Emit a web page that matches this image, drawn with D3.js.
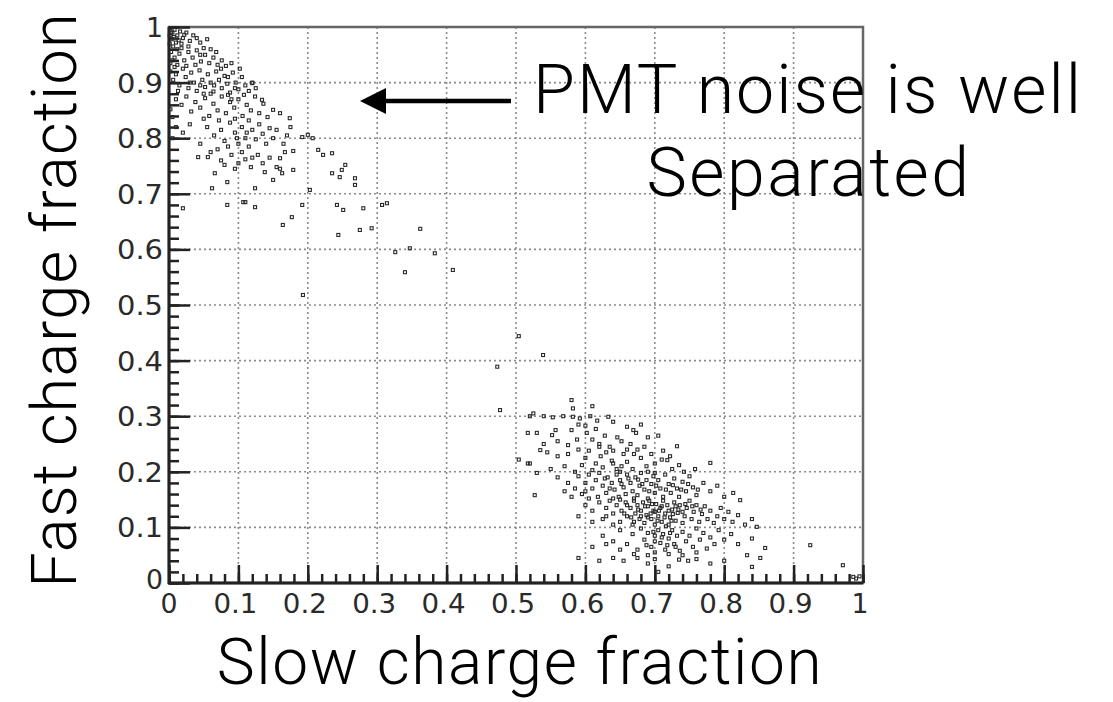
<!DOCTYPE html>
<html>
<head>
<meta charset="utf-8">
<title>Fast vs slow charge fraction</title>
<script src="https://cdn.jsdelivr.net/npm/d3@7"></script>
<style>
  body { margin: 0; background: #fff; }
  .tick-label { font-family: "DejaVu Sans", sans-serif; font-size: 27px; fill: #2a2a2a; }
  .title { font-family: Roboto, "Liberation Sans", sans-serif; font-weight: 300; fill: #000; }
</style>
</head>
<body>
<script>
// tick labels along both axes
var tickLabels = ["0", "0.1", "0.2", "0.3", "0.4", "0.5", "0.6", "0.7", "0.8", "0.9", "1"];
var tickValues = [0, 0.1, 0.2, 0.3, 0.4, 0.5, 0.6, 0.7, 0.8, 0.9, 1];

// PMT noise events (upper left)
var noiseHits = [
  [0.002,0.998],[0.005,0.99],[0.008,0.995],[0.012,0.985],[0.004,0.978],[0.01,0.972],[0.016,0.992],[0.02,0.98],
  [0.025,0.99],[0.018,0.97],[0.03,0.975],[0.035,0.985],[0.04,0.98],[0.006,0.965],[0.045,0.972],[0.055,0.978],
  [0.028,0.965],[0.012,0.96],[0.001,0.985],[0.001,0.97],[0.003,0.99],[0.007,0.982],[0.014,0.976],[0.022,0.986],
  [0.003,0.955],[0.008,0.945],[0.015,0.952],[0.022,0.94],[0.028,0.955],[0.034,0.945],[0.04,0.958],[0.046,0.938],
  [0.052,0.95],[0.058,0.935],[0.064,0.945],[0.07,0.932],[0.076,0.94],[0.082,0.93],[0.002,0.935],[0.012,0.932],
  [0.018,0.962],[0.038,0.932],[0.05,0.962],[0.06,0.96],[0.068,0.955],[0.025,0.93],[0.045,0.95],[0.09,0.935],[0.005,0.94],
  [0.002,0.92],[0.006,0.905],[0.01,0.915],[0.015,0.895],[0.02,0.925],[0.024,0.91],[0.028,0.89],[0.032,0.918],
  [0.036,0.9],[0.04,0.885],[0.044,0.922],[0.048,0.905],[0.052,0.892],[0.056,0.915],[0.06,0.9],[0.064,0.884],
  [0.068,0.92],[0.072,0.905],[0.076,0.89],[0.08,0.912],[0.084,0.898],[0.088,0.882],[0.092,0.918],[0.096,0.9],
  [0.1,0.888],[0.105,0.91],[0.11,0.895],[0.115,0.885],[0.12,0.9],[0.075,0.925],[0.05,0.88],[0.03,0.9],
  [0.085,0.91],[0.095,0.89],[0.065,0.895],[0.045,0.895],[0.013,0.885],[0.008,0.928],[0.102,0.925],[0.125,0.89],
  [0.01,0.87],[0.018,0.86],[0.025,0.875],[0.032,0.848],[0.038,0.865],[0.045,0.855],[0.052,0.872],[0.058,0.84],
  [0.064,0.862],[0.07,0.85],[0.076,0.875],[0.082,0.845],[0.088,0.865],[0.094,0.855],[0.1,0.87],[0.106,0.84],
  [0.112,0.86],[0.118,0.85],[0.124,0.875],[0.13,0.845],[0.136,0.862],[0.142,0.838],[0.05,0.835],[0.072,0.832],
  [0.095,0.835],[0.115,0.832],[0.002,0.852],[0.005,0.838],[0.085,0.878],[0.06,0.88],[0.09,0.87],[0.108,0.878],
  [0.02,0.81],[0.03,0.825],[0.045,0.79],[0.055,0.82],[0.065,0.805],[0.075,0.815],[0.08,0.795],[0.088,0.828],
  [0.095,0.81],[0.1,0.79],[0.105,0.82],[0.11,0.8],[0.115,0.785],[0.12,0.815],[0.125,0.798],[0.13,0.825],
  [0.135,0.808],[0.14,0.79],[0.145,0.818],[0.15,0.8],[0.155,0.815],[0.165,0.79],[0.17,0.805],[0.175,0.82],
  [0.085,0.785],[0.07,0.78],[0.005,0.8],[0.01,0.82],[0.098,0.8],[0.112,0.81],
  [0.06,0.775],[0.075,0.76],[0.09,0.77],[0.1,0.755],[0.105,0.775],[0.11,0.762],[0.118,0.748],[0.128,0.77],
  [0.135,0.755],[0.145,0.765],[0.155,0.748],[0.12,0.765],[0.095,0.745],[0.08,0.752]
];

// sparse events between the two populations
var bridgeHits = [
  [0.042,0.766],[0.056,0.766],[0.066,0.737],[0.084,0.721],[0.062,0.71],[0.084,0.68],[0.11,0.685],[0.124,0.676],
  [0.124,0.71],[0.138,0.739],[0.15,0.725],[0.163,0.737],[0.16,0.745],[0.179,0.743],[0.167,0.775],[0.179,0.777],
  [0.16,0.764],[0.192,0.68],[0.177,0.658],[0.164,0.644],[0.203,0.707],[0.215,0.779],[0.235,0.773],[0.222,0.77],
  [0.235,0.737],[0.249,0.743],[0.246,0.73],[0.254,0.752],[0.268,0.728],[0.268,0.716],[0.242,0.68],[0.251,0.671],
  [0.28,0.674],[0.244,0.626],[0.275,0.635],[0.292,0.638],[0.307,0.68],[0.314,0.683],[0.326,0.595],[0.347,0.602],
  [0.34,0.559],[0.362,0.637],[0.383,0.593],[0.409,0.563],[0.193,0.518],[0.504,0.444],[0.539,0.41],[0.473,0.389],
  [0.477,0.311],[0.02,0.674],[0.192,0.802],[0.2,0.806],[0.207,0.8],[0.174,0.836],[0.15,0.851],[0.16,0.845],
  [0.134,0.869],[0.12,0.899],[0.107,0.685]
];

// scintillation events (lower right)
var signalHits = [
  [0.52,0.30],[0.54,0.30],[0.553,0.298],[0.568,0.30],[0.582,0.299],[0.592,0.296],[0.607,0.30],[0.617,0.292],
  [0.633,0.299],[0.64,0.29],[0.58,0.329],[0.582,0.314],[0.525,0.305],[0.61,0.318],[0.66,0.281],[0.669,0.275],
  [0.517,0.27],[0.53,0.27],[0.552,0.266],[0.557,0.275],[0.58,0.275],[0.6,0.283],[0.602,0.27],[0.615,0.277],
  [0.61,0.258],[0.588,0.258],[0.62,0.25],[0.628,0.265],[0.646,0.262],[0.652,0.255],[0.673,0.27],[0.69,0.262],
  [0.705,0.265],[0.56,0.255],[0.54,0.25],[0.575,0.248],[0.635,0.245],[0.665,0.25],[0.685,0.245],[0.732,0.246],
  [0.59,0.285],[0.68,0.285],
  [0.504,0.222],[0.52,0.215],[0.535,0.239],[0.545,0.235],[0.56,0.228],[0.575,0.232],[0.59,0.24],[0.60,0.225],
  [0.605,0.238],[0.615,0.215],[0.622,0.228],[0.63,0.235],[0.638,0.22],[0.645,0.205],[0.655,0.232],[0.66,0.218],
  [0.668,0.205],[0.675,0.24],[0.68,0.225],[0.688,0.21],[0.695,0.232],[0.70,0.215],[0.71,0.222],[0.718,0.221],
  [0.725,0.205],[0.735,0.212],[0.55,0.205],[0.57,0.21],[0.585,0.2],[0.595,0.212],[0.61,0.203],[0.625,0.208],
  [0.64,0.238],[0.67,0.232],[0.69,0.2],[0.742,0.2],[0.758,0.205],[0.78,0.216],[0.64,0.215],[0.652,0.21],
  [0.66,0.24],[0.712,0.238],[0.722,0.228],[0.62,0.245],
  [0.527,0.158],[0.56,0.19],[0.575,0.18],[0.585,0.17],[0.59,0.192],[0.595,0.16],[0.60,0.18],[0.605,0.195],
  [0.61,0.17],[0.615,0.185],[0.618,0.155],[0.62,0.198],[0.625,0.175],[0.63,0.162],[0.632,0.19],[0.638,0.18],
  [0.642,0.168],[0.645,0.195],[0.648,0.155],[0.65,0.185],[0.655,0.172],[0.658,0.16],[0.66,0.195],[0.665,0.18],
  [0.668,0.165],[0.672,0.19],[0.675,0.158],[0.678,0.175],[0.68,0.198],[0.685,0.168],[0.688,0.185],[0.69,0.152],
  [0.695,0.178],[0.698,0.192],[0.70,0.162],[0.705,0.185],[0.708,0.17],[0.712,0.155],[0.715,0.195],[0.72,0.178],
  [0.723,0.162],[0.728,0.188],[0.732,0.17],[0.735,0.155],[0.74,0.182],[0.745,0.165],[0.75,0.192],[0.755,0.172],
  [0.76,0.158],[0.77,0.18],[0.78,0.165],[0.79,0.175],[0.813,0.162],[0.823,0.149],[0.80,0.155],[0.64,0.152],
  [0.67,0.152],[0.605,0.152],[0.58,0.155],[0.57,0.165],
  [0.628,0.188],[0.652,0.178],[0.662,0.188],[0.682,0.178],[0.692,0.165],[0.702,0.175],[0.716,0.168],[0.726,0.176],
  [0.738,0.168],[0.748,0.178],[0.65,0.2],[0.7,0.198],[0.6,0.165],[0.635,0.17],[0.676,0.186],[0.762,0.168],
  [0.59,0.12],[0.60,0.14],[0.61,0.13],[0.62,0.145],[0.625,0.115],[0.63,0.135],[0.635,0.148],[0.64,0.125],
  [0.645,0.14],[0.65,0.11],[0.652,0.13],[0.658,0.145],[0.66,0.12],[0.665,0.135],[0.668,0.105],[0.67,0.148],
  [0.672,0.125],[0.675,0.14],[0.678,0.115],[0.68,0.13],[0.683,0.145],[0.685,0.108],[0.688,0.122],[0.69,0.138],
  [0.692,0.148],[0.695,0.115],[0.698,0.13],[0.70,0.105],[0.702,0.142],[0.705,0.12],[0.708,0.135],[0.71,0.11],
  [0.712,0.148],[0.715,0.125],[0.718,0.14],[0.72,0.105],[0.722,0.118],[0.725,0.132],[0.728,0.145],[0.73,0.112],
  [0.733,0.126],[0.736,0.14],[0.74,0.108],[0.743,0.12],[0.746,0.135],[0.75,0.148],[0.753,0.115],[0.756,0.128],
  [0.76,0.14],[0.764,0.11],[0.768,0.124],[0.772,0.138],[0.776,0.115],[0.78,0.13],[0.785,0.108],[0.79,0.12],
  [0.795,0.135],[0.80,0.115],[0.806,0.128],[0.812,0.11],[0.82,0.122],[0.83,0.105],[0.847,0.101],[0.84,0.115],
  [0.70,0.128],[0.71,0.138],[0.69,0.118],[0.72,0.13],[0.73,0.138],[0.74,0.128],[0.68,0.12],[0.67,0.11],
  [0.66,0.14],[0.65,0.15],[0.63,0.12],[0.61,0.11],[0.64,0.105],
  [0.676,0.132],[0.686,0.138],[0.696,0.142],[0.704,0.112],[0.714,0.118],[0.724,0.112],[0.734,0.132],[0.744,0.142],
  [0.754,0.138],[0.766,0.132],[0.694,0.125],[0.706,0.13],[0.716,0.102],[0.726,0.124],[0.656,0.125],[0.666,0.118],
  [0.61,0.065],[0.625,0.085],[0.64,0.075],[0.65,0.095],[0.66,0.07],[0.668,0.088],[0.675,0.06],[0.68,0.098],
  [0.685,0.078],[0.69,0.09],[0.695,0.065],[0.70,0.085],[0.705,0.095],[0.708,0.072],[0.712,0.088],[0.715,0.06],
  [0.72,0.08],[0.725,0.095],[0.728,0.07],[0.732,0.085],[0.736,0.058],[0.74,0.092],[0.745,0.075],[0.75,0.085],
  [0.755,0.065],[0.76,0.098],[0.765,0.078],[0.77,0.09],[0.775,0.062],[0.78,0.082],[0.786,0.07],[0.792,0.095],
  [0.80,0.078],[0.81,0.088],[0.82,0.07],[0.833,0.05],[0.852,0.045],[0.859,0.063],[0.84,0.08],[0.70,0.055],
  [0.69,0.05],[0.72,0.052],[0.74,0.05],[0.76,0.055],[0.67,0.052],[0.63,0.07],[0.65,0.06],[0.73,0.065],
  [0.698,0.092],[0.71,0.082],[0.722,0.09],[0.7,0.075],[0.688,0.068],[0.718,0.068],
  [0.655,0.04],[0.675,0.045],[0.69,0.035],[0.70,0.043],[0.72,0.03],[0.735,0.042],[0.748,0.04],[0.76,0.043],
  [0.78,0.035],[0.80,0.04],[0.84,0.029],[0.705,0.02],[0.64,0.045],[0.62,0.04],[0.59,0.045],
  [0.517,0.215],[0.53,0.198],[0.924,0.068],[0.971,0.032],[0.986,0.011],[0.99,0.008],[0.995,0.012]
];

var width = 1113, height = 702;
var plot = { left: 169, right: 863, top: 27, bottom: 583 };

var svg = d3.select("body").append("svg")
  .attr("width", width)
  .attr("height", height);

var x = d3.scaleLinear().domain([0, 1]).range([plot.left, plot.right]);
var y = d3.scaleLinear().domain([0, 1]).range([plot.bottom, plot.top]);

var minorTicks = d3.range(0, 1.0001, 0.02);
var gridValues = tickValues.slice(1, -1);

// dotted grid
var grid = svg.append("g").attr("stroke", "#8a8a8a").attr("stroke-width", 1.6).attr("stroke-dasharray", "2,3");
grid.selectAll(".gx").data(gridValues).join("line")
  .attr("x1", d => x(d)).attr("x2", d => x(d))
  .attr("y1", plot.top).attr("y2", plot.bottom);
grid.selectAll(".gy").data(gridValues).join("line")
  .attr("y1", d => y(d)).attr("y2", d => y(d))
  .attr("x1", plot.left).attr("x2", plot.right);

// frame (top / right)
svg.append("rect")
  .attr("x", plot.left).attr("y", plot.top)
  .attr("width", plot.right - plot.left).attr("height", plot.bottom - plot.top)
  .attr("fill", "none").attr("stroke", "#666").attr("stroke-width", 2.5);

// axes with inward ticks
function styleAxis(g) {
  g.select(".domain").remove();
  g.selectAll("line").attr("stroke", "#222").attr("stroke-width", 2.5);
}
svg.append("g").attr("transform", "translate(" + plot.left + ",0)")
  .call(d3.axisLeft(y).tickValues(minorTicks).tickSize(-10).tickFormat(""))
  .call(styleAxis);
svg.append("g").attr("transform", "translate(" + plot.left + ",0)")
  .call(d3.axisLeft(y).tickValues(tickValues).tickSize(-21).tickFormat(""))
  .call(styleAxis);
svg.append("g").attr("transform", "translate(0," + plot.bottom + ")")
  .call(d3.axisBottom(x).tickValues(minorTicks).tickSize(-9).tickFormat(""))
  .call(styleAxis);
svg.append("g").attr("transform", "translate(0," + plot.bottom + ")")
  .call(d3.axisBottom(x).tickValues(tickValues).tickSize(-18).tickFormat(""))
  .call(styleAxis);

svg.append("line")
  .attr("x1", plot.left).attr("x2", plot.left).attr("y1", plot.top).attr("y2", plot.bottom + 1)
  .attr("stroke", "#222").attr("stroke-width", 3);
svg.append("line")
  .attr("x1", plot.left - 1).attr("x2", plot.right).attr("y1", plot.bottom).attr("y2", plot.bottom)
  .attr("stroke", "#222").attr("stroke-width", 3);

// tick labels
svg.append("g").selectAll("text").data(tickValues).join("text")
  .attr("class", "tick-label")
  .attr("x", 163)
  .attr("y", d => y(d) + (d === 0 ? 6 : 10))
  .attr("text-anchor", "end")
  .attr("textLength", (d, i) => tickLabels[i].length > 1 ? 46 : 17)
  .attr("lengthAdjust", "spacingAndGlyphs")
  .text((d, i) => tickLabels[i]);

svg.append("g").selectAll("text").data(tickValues).join("text")
  .attr("class", "tick-label")
  .attr("x", d => x(d) - (d === 0 ? 0 : 3))
  .attr("y", plot.bottom + 30)
  .attr("text-anchor", "middle")
  .attr("textLength", (d, i) => tickLabels[i].length > 1 ? 44 : 17)
  .attr("lengthAdjust", "spacingAndGlyphs")
  .text((d, i) => tickLabels[i]);

// events
var allHits = noiseHits.concat(bridgeHits, signalHits);
svg.append("g").selectAll("rect").data(allHits).join("rect")
  .attr("x", d => x(d[0]) - 1.5)
  .attr("y", d => y(d[1]) - 1.5)
  .attr("width", 3).attr("height", 3)
  .attr("fill", "none")
  .attr("stroke", "#2a2a2a")
  .attr("stroke-width", 1.1);

// axis titles
svg.append("text").attr("class", "title")
  .attr("x", 520).attr("y", 684)
  .attr("text-anchor", "middle")
  .attr("font-size", 64)
  .attr("letter-spacing", 1.6)
  .text("Slow charge fraction");

svg.append("text").attr("class", "title")
  .attr("transform", "translate(76,300) rotate(-90)")
  .attr("text-anchor", "middle")
  .attr("font-size", 63)
  .attr("letter-spacing", 1.2)
  .text("Fast charge fraction");

// annotation
svg.append("text").attr("class", "title")
  .attr("x", 808).attr("y", 113)
  .attr("text-anchor", "middle")
  .attr("font-size", 68)
  .attr("letter-spacing", 2)
  .text("PMT noise is well");
svg.append("text").attr("class", "title")
  .attr("x", 809).attr("y", 196)
  .attr("text-anchor", "middle")
  .attr("font-size", 68)
  .attr("letter-spacing", 2.5)
  .text("Separated");

svg.append("line")
  .attr("x1", 380).attr("x2", 511).attr("y1", 101).attr("y2", 101)
  .attr("stroke", "#000").attr("stroke-width", 4.5);
svg.append("path")
  .attr("d", d3.line()([[360, 101], [386, 88], [386, 114]]) + "Z")
  .attr("fill", "#000");
</script>
</body>
</html>
